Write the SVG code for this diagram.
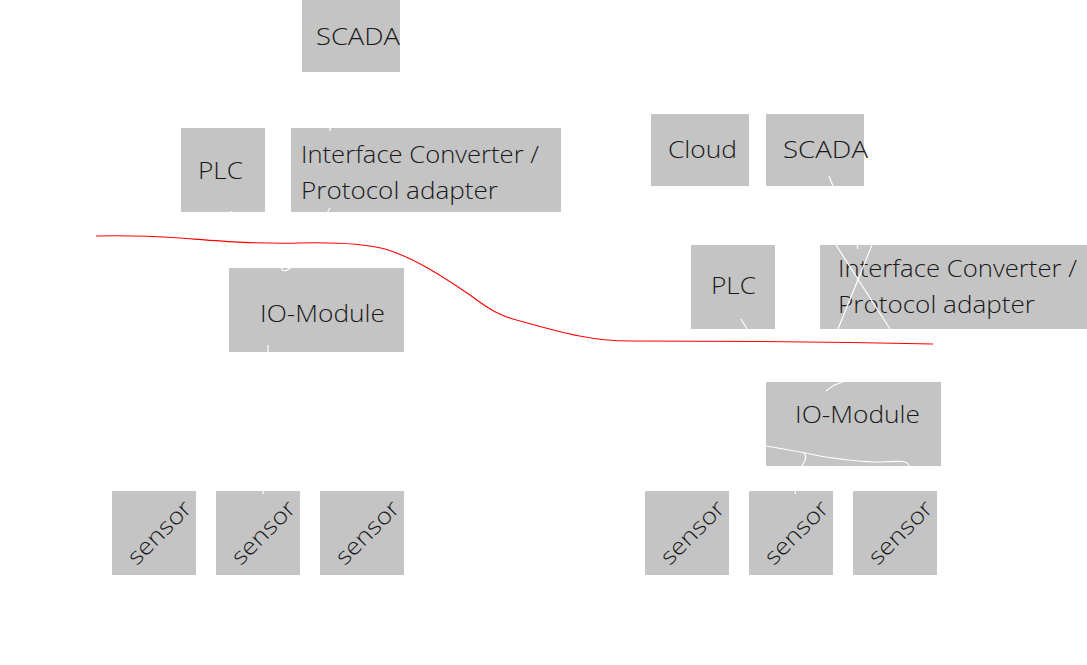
<svg xmlns="http://www.w3.org/2000/svg" width="1087" height="665" viewBox="0 0 1087 665">
<style>
.box{fill:#c4c4c4}
.lbl{font-family:"Open Sans","Liberation Sans",sans-serif;font-weight:300;font-size:23px;fill:#1a1a1a}
.con{fill:none;stroke:#ffffff;stroke-width:1.2}
.sep{fill:none;stroke:#ff0000;stroke-width:1.1}
</style>
<rect width="1087" height="665" fill="#ffffff"/>
<g id="scada-left"><rect class="box" x="302" y="0" width="98" height="72"/><text class="lbl" x="316" y="45" textLength="84" lengthAdjust="spacingAndGlyphs">SCADA</text></g>
<g id="plc-left"><rect class="box" x="181" y="128" width="84" height="84"/><text class="lbl" x="198" y="179" textLength="45" lengthAdjust="spacingAndGlyphs">PLC</text></g>
<g id="converter-left"><rect class="box" x="291" y="128" width="270" height="84"/><text class="lbl" x="301" y="163" textLength="238" lengthAdjust="spacingAndGlyphs">Interface Converter /</text><text class="lbl" x="301" y="199" textLength="197" lengthAdjust="spacingAndGlyphs">Protocol adapter</text></g>
<g id="io-left"><rect class="box" x="229" y="268" width="175" height="84"/><text class="lbl" x="260" y="322" textLength="125" lengthAdjust="spacingAndGlyphs">IO-Module</text></g>
<g id="sensor-l1"><rect class="box" x="112" y="491" width="84" height="84"/><text class="lbl" x="165" y="538" text-anchor="middle" textLength="80" lengthAdjust="spacingAndGlyphs" transform="rotate(-45 165 538)">sensor</text></g>
<g id="sensor-l2"><rect class="box" x="216" y="491" width="84" height="84"/><text class="lbl" x="269" y="538" text-anchor="middle" textLength="80" lengthAdjust="spacingAndGlyphs" transform="rotate(-45 269 538)">sensor</text></g>
<g id="sensor-l3"><rect class="box" x="320" y="491" width="84" height="84"/><text class="lbl" x="373" y="538" text-anchor="middle" textLength="80" lengthAdjust="spacingAndGlyphs" transform="rotate(-45 373 538)">sensor</text></g>
<g id="cloud"><rect class="box" x="651" y="114" width="98" height="72"/><text class="lbl" x="668" y="158" textLength="69" lengthAdjust="spacingAndGlyphs">Cloud</text></g>
<g id="scada-right"><rect class="box" x="766" y="114" width="98" height="72"/><text class="lbl" x="783" y="158" textLength="85" lengthAdjust="spacingAndGlyphs">SCADA</text></g>
<g id="plc-right"><rect class="box" x="691" y="245" width="84" height="84"/><text class="lbl" x="711" y="294" textLength="45" lengthAdjust="spacingAndGlyphs">PLC</text></g>
<g id="converter-right"><rect class="box" x="820" y="245" width="267" height="84"/><text class="lbl" x="838" y="277" textLength="239" lengthAdjust="spacingAndGlyphs">Interface Converter /</text><text class="lbl" x="838" y="313" textLength="197" lengthAdjust="spacingAndGlyphs">Protocol adapter</text></g>
<g id="io-right"><rect class="box" x="766" y="382" width="175" height="84"/><text class="lbl" x="795" y="423" textLength="125" lengthAdjust="spacingAndGlyphs">IO-Module</text></g>
<g id="sensor-r1"><rect class="box" x="645" y="491" width="84" height="84"/><text class="lbl" x="698" y="538" text-anchor="middle" textLength="80" lengthAdjust="spacingAndGlyphs" transform="rotate(-45 698 538)">sensor</text></g>
<g id="sensor-r2"><rect class="box" x="749" y="491" width="84" height="84"/><text class="lbl" x="802" y="538" text-anchor="middle" textLength="80" lengthAdjust="spacingAndGlyphs" transform="rotate(-45 802 538)">sensor</text></g>
<g id="sensor-r3"><rect class="box" x="853" y="491" width="84" height="84"/><text class="lbl" x="906" y="538" text-anchor="middle" textLength="80" lengthAdjust="spacingAndGlyphs" transform="rotate(-45 906 538)">sensor</text></g>
<g id="connectors">
<path class="con" d="M351,72 C340,95 330,110 330,131"/>
<path class="con" d="M231,211 C240,240 300,250 283,266 C279,271 285,273 291,267"/>
<path class="con" d="M330,208 C325,215 318,235 310,260"/>
<path class="con" d="M268,345 L268,352 C268,420 264,460 263,494"/>
<path class="con" d="M829,176 L833,186"/>
<path class="con" d="M836,245 L890,329"/>
<path class="con" d="M872,245 L838,329"/>
<path class="con" d="M857,245 L858,249"/>
<path class="con" d="M741,319 L747,329"/>
<path class="con" d="M826,391 C832,386 838,383 843,382"/>
<path class="con" d="M766,446 C790,450 806,453 820,456 C845,460 860,462 880,462 C900,461 908,460 909,466"/>
<path class="con" d="M804,453 C808,458 804,462 802,466 C799,475 797,484 795,494"/>
</g>
<path id="separator" class="sep" d="M96,236 C130,235 150,236 180,238 C220,241 250,244 300,243 C340,242 365,244 385,249 C415,258 445,278 470,295 C490,310 500,316 520,321 C560,332 590,341 630,341 C700,341 800,341 933,344"/>
</svg>
